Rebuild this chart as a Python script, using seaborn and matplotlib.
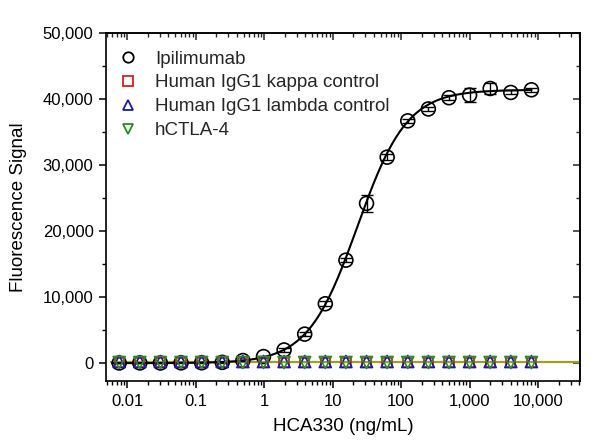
import numpy as np
import pandas as pd
import matplotlib
matplotlib.use("Agg")
import matplotlib.pyplot as plt
import seaborn as sns
from matplotlib.ticker import FuncFormatter, LogLocator, MultipleLocator, NullFormatter, FixedLocator

# ---- data ----
conc = [8000 / 2 ** k for k in range(20, -1, -1)]  # 2-fold serial dilution (ng/mL)
ipi_signal = [30, 40, 30, 50, 60, 120, 400, 1000, 2000, 4400, 9000, 15600, 24200,
              31200, 36700, 38500, 40200, 40600, 41600, 41000, 41400]
ipi_sd = [60, 60, 60, 60, 60, 60, 100, 150, 300, 300, 400, 300, 1300,
          500, 300, 300, 400, 1100, 900, 300, 300]
kappa_signal = [150] * 21
lambda_signal = [250] * 21
ctla4_signal = [100] * 21
x_ticks = [0.01, 0.1, 1, 10, 100, 1000, 10000]
y_ticks = [0, 10000, 20000, 30000, 40000, 50000]
# 4PL fit parameters for Ipilimumab
fit_bottom, fit_top, fit_ec50, fit_hill = 0.0, 41400.0, 23.0, 1.2

series_names = ["Ipilimumab", "Human IgG1 kappa control", "Human IgG1 lambda control", "hCTLA-4"]
colors = ["black", "#d42020", "#1a1aa0", "#2a8a2a"]
markers = ["o", "s", "^", "v"]

sns.set_theme(style="ticks")
plt.rcParams['font.family'] = ['Liberation Sans', 'DejaVu Sans']

fig = plt.figure(figsize=(6, 4.45), dpi=100)
ax = fig.add_axes([0.1767, 0.1438, 0.79, 0.782])

# fitted curves
xfit = np.logspace(np.log10(0.006), np.log10(8000), 300)
yfit = fit_bottom + (fit_top - fit_bottom) / (1 + (fit_ec50 / xfit) ** fit_hill)
xctl = np.logspace(np.log10(0.0058), np.log10(40000), 50)
ctl_df = pd.DataFrame({"x": xctl, "y": np.full_like(xctl, np.mean(lambda_signal))})
sns.lineplot(data=ctl_df, x="x", y="y", color="#a0a020", lw=1.6, ax=ax, zorder=2)
fit_df = pd.DataFrame({"x": xfit, "y": yfit})
sns.lineplot(data=fit_df, x="x", y="y", color="black", lw=1.5, ax=ax, zorder=3)

# error bars for Ipilimumab
ax.errorbar(conc, ipi_signal, yerr=ipi_sd, fmt="none", ecolor="black", elinewidth=1,
            capsize=4, capthick=1, zorder=4)

all_vals = [ipi_signal, kappa_signal, lambda_signal, ctla4_signal]
order = [0, 1, 2, 3]
sizes = {0: 100, 1: 45, 2: 75, 3: 75}
handles = {}
for i in order:
    df = pd.DataFrame({"x": conc, "y": all_vals[i]})
    sns.scatterplot(data=df, x="x", y="y", marker=markers[i], s=sizes[i],
                    facecolor="none", edgecolor=colors[i], linewidth=1.2, ax=ax, zorder=5)
    handles[i] = plt.Line2D([], [], marker=markers[i], ls="none", markersize=7.5,
                            markerfacecolor="none", markeredgecolor=colors[i], markeredgewidth=1.3)

ax.set_xscale("log")
ax.set_xlim(0.0049, 41000)
ax.set_ylim(-2700, 50000)

ax.yaxis.set_major_locator(FixedLocator(y_ticks))
ax.yaxis.set_minor_locator(MultipleLocator(5000))
ax.yaxis.set_major_formatter(FuncFormatter(lambda v, p: f"{int(v):,}"))
ax.xaxis.set_major_locator(FixedLocator(x_ticks))
ax.xaxis.set_minor_locator(LogLocator(base=10, subs=np.arange(2, 10), numticks=20))
ax.xaxis.set_minor_formatter(NullFormatter())


def xfmt(v, p):
    if v < 1:
        return f"{v:g}"
    return f"{int(round(v)):,}"


ax.xaxis.set_major_formatter(FuncFormatter(xfmt))

for s in ax.spines.values():
    s.set_visible(True)
    s.set_color("black")
    s.set_linewidth(1.2)

ax.tick_params(axis="both", which="major", direction="out", length=5, width=1.1,
               labelsize=12, colors="black", top=False, right=False, pad=4)
ax.tick_params(axis="both", which="minor", direction="out", length=3, width=1.0,
               top=False, right=False, colors="black")

# inward ticks on top/right
axt = ax.secondary_xaxis("top")
axt.xaxis.set_major_locator(FixedLocator(x_ticks))
axt.xaxis.set_minor_locator(LogLocator(base=10, subs=np.arange(2, 10), numticks=20))
axt.tick_params(which="major", direction="in", length=5, width=1.1, labeltop=False)
axt.tick_params(which="minor", direction="in", length=3, width=1.0)
axt.xaxis.set_major_formatter(NullFormatter())
axt.xaxis.set_minor_formatter(NullFormatter())
axr = ax.secondary_yaxis("right")
axr.yaxis.set_major_locator(FixedLocator(y_ticks))
axr.yaxis.set_minor_locator(MultipleLocator(5000))
axr.tick_params(which="major", direction="in", length=5, width=1.1, labelright=False)
axr.tick_params(which="minor", direction="in", length=3, width=1.0)
axr.yaxis.set_major_formatter(NullFormatter())

ax.set_xlabel("HCA330 (ng/mL)", fontsize=13.5, color="black", labelpad=7)
ax.set_ylabel("Fluorescence Signal", fontsize=13.5, color="black", labelpad=11)

leg = ax.legend([handles[i] for i in range(4)], series_names, loc="upper left",
                bbox_to_anchor=(0.026, 0.95), frameon=False, fontsize=13.5,
                handletextpad=0.95, labelspacing=0.36, borderaxespad=0,
                handlelength=1.0, borderpad=0)

fig.savefig("out.png", dpi=100)
